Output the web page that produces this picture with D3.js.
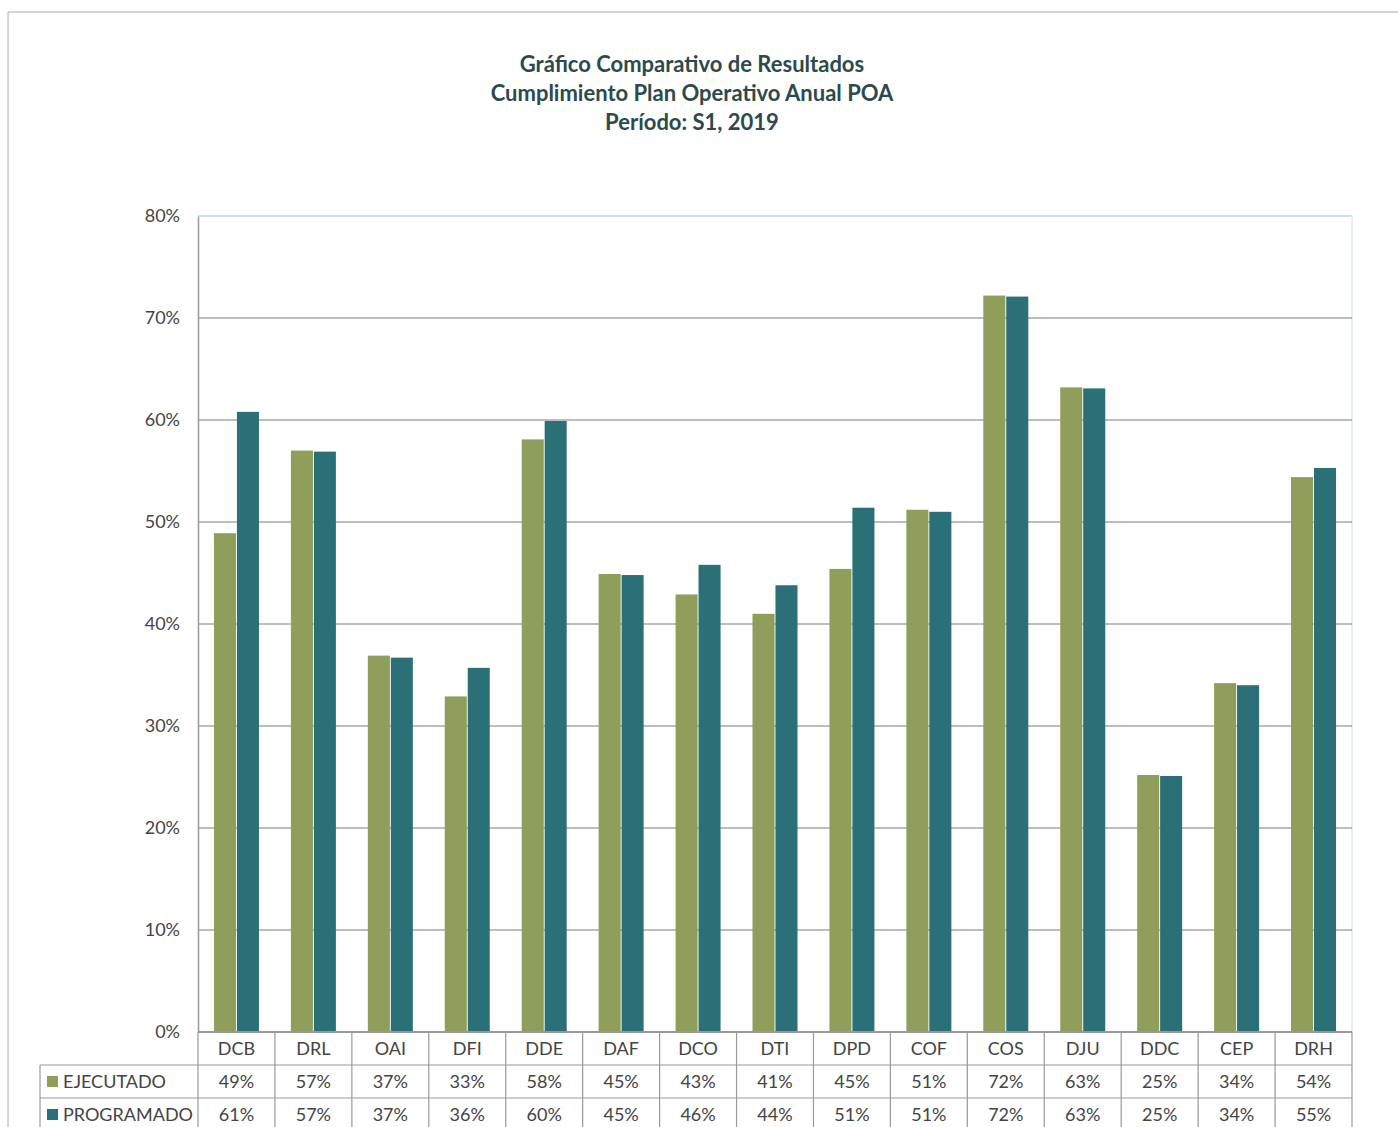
<!DOCTYPE html>
<html>
<head>
<meta charset="utf-8">
<script src="https://cdn.jsdelivr.net/npm/d3@7"></script>
<style>
    body { margin: 0; background: #fff; }
    text { font-family: Lato, "Noto Sans", sans-serif; }
</style>
</head>
<body>
<div id="chart"></div>
<script>
// data
const categories = ["DCB", "DRL", "OAI", "DFI", "DDE", "DAF", "DCO", "DTI", "DPD", "COF", "COS", "DJU", "DDC", "CEP", "DRH"];
const ejecutado  = [48.9, 57.0, 36.9, 32.9, 58.1, 44.9, 42.9, 41.0, 45.4, 51.2, 72.2, 63.2, 25.2, 34.2, 54.4];
const programado = [60.8, 56.9, 36.7, 35.7, 59.9, 44.8, 45.8, 43.8, 51.4, 51.0, 72.1, 63.1, 25.1, 34.0, 55.3];
const yTicks = [0, 10, 20, 30, 40, 50, 60, 70, 80];
const titleLines = ["Gráfico Comparativo de Resultados", "Cumplimiento Plan Operativo Anual POA", "Período: S1, 2019"];

const series = [
    { name: "EJECUTADO", values: ejecutado, color: "#8f9e5a" },
    { name: "PROGRAMADO", values: programado, color: "#2b7076" }
];

const width = 1398, height = 1127;
const plot = { left: 198, right: 1352, top: 216, bottom: 1032 };
const rowH = 33;

let svg = d3.select("#chart")
    .append("svg")
    .attr("width", width)
    .attr("height", height);

// outer frame of the scanned page
svg.append("path")
    .attr("d", `M 8,${height} L 8,12 L ${width},12`)
    .attr("fill", "none")
    .attr("stroke", "#aaa")
    .attr("stroke-width", 1);

// title
svg.append("g")
    .selectAll("text")
    .data(titleLines).enter()
    .append("text")
    .attr("x", 692)
    .attr("y", (d, i) => 72 + i * 29)
    .attr("text-anchor", "middle")
    .attr("font-size", 22)
    .attr("font-weight", "bold")
    .attr("fill", "#2c4a4b")
    .text(d => d);

let x = d3.scaleBand()
    .domain(categories)
    .range([plot.left, plot.right]);

let xInner = d3.scaleBand()
    .domain(series.map(s => s.name))
    .range([0, 45])
    .paddingInner(0.04);

let y = d3.scaleLinear()
    .domain([0, 80])
    .range([plot.bottom, plot.top]);

// plot area border (light, like the original)
svg.append("line")
    .attr("x1", plot.left).attr("x2", plot.right)
    .attr("y1", plot.top).attr("y2", plot.top)
    .attr("stroke", "#cfe3ef").attr("stroke-width", 2);
svg.append("line")
    .attr("x1", plot.right).attr("x2", plot.right)
    .attr("y1", plot.top).attr("y2", plot.bottom)
    .attr("stroke", "#e4eef3").attr("stroke-width", 2);

// gridlines
svg.append("g")
    .selectAll("line")
    .data(yTicks.filter(t => t > 0 && t < 80)).enter()
    .append("line")
    .attr("x1", plot.left).attr("x2", plot.right)
    .attr("y1", d => y(d)).attr("y2", d => y(d))
    .attr("stroke", "#7d7d7d")
    .attr("stroke-width", 1.2);

// y axis
let yAxis = svg.append("g")
    .attr("transform", `translate(${plot.left},0)`)
    .call(d3.axisLeft(y).tickValues(yTicks).tickFormat(d => d + "%").tickSize(0).tickPadding(18));
yAxis.select(".domain").attr("stroke", "#999").attr("stroke-width", 1.5);
yAxis.selectAll("text")
    .attr("font-size", 18)
    .attr("fill", "#444")
    .style("font-family", "Lato, 'Noto Sans', sans-serif");

// bars
svg.append("g")
    .selectAll("g")
    .data(series).enter()
    .append("g")
    .attr("fill", s => s.color)
    .selectAll("rect")
    .data(s => s.values.map((v, i) => ({ name: s.name, cat: categories[i], value: v }))).enter()
    .append("rect")
    .attr("x", d => x(d.cat) + (x.bandwidth() - 45) / 2 + xInner(d.name))
    .attr("width", xInner.bandwidth())
    .attr("y", d => y(d.value))
    .attr("height", d => y(0) - y(d.value));

// data table below the axis
let table = svg.append("g");
let gridColor = "#999";

// horizontal lines
[plot.bottom, plot.bottom + rowH, plot.bottom + 2 * rowH].forEach((yy, i) => {
    table.append("line")
        .attr("x1", i === 0 ? plot.left : 40).attr("x2", plot.right)
        .attr("y1", yy).attr("y2", yy)
        .attr("stroke", gridColor).attr("stroke-width", i === 0 ? 1.8 : 1.2);
});

// vertical lines
table.append("line")
    .attr("x1", 40).attr("x2", 40)
    .attr("y1", plot.bottom + rowH).attr("y2", height)
    .attr("stroke", gridColor).attr("stroke-width", 1.2);
table.selectAll(".vline")
    .data(categories.map(c => x(c)).concat([plot.right])).enter()
    .append("line")
    .attr("class", "vline")
    .attr("x1", d => d).attr("x2", d => d)
    .attr("y1", plot.bottom).attr("y2", height)
    .attr("stroke", gridColor).attr("stroke-width", 1.2);

// category labels
table.selectAll(".cat")
    .data(categories).enter()
    .append("text")
    .attr("class", "cat")
    .attr("x", d => x(d) + x.bandwidth() / 2)
    .attr("y", plot.bottom + 23)
    .attr("text-anchor", "middle")
    .attr("font-size", 18)
    .attr("fill", "#444")
    .text(d => d);

// series rows
series.forEach((s, r) => {
    let rowY = plot.bottom + rowH * (r + 1);
    table.append("rect")
        .attr("x", 47).attr("y", rowY + 11)
        .attr("width", 11).attr("height", 11)
        .attr("fill", s.color);
    table.append("text")
        .attr("x", 63).attr("y", rowY + 23)
        .attr("font-size", 18)
        .attr("fill", "#444")
        .text(s.name);
    table.selectAll(".v" + r)
        .data(s.values).enter()
        .append("text")
        .attr("x", (d, i) => x(categories[i]) + x.bandwidth() / 2)
        .attr("y", rowY + 23)
        .attr("text-anchor", "middle")
        .attr("font-size", 18)
        .attr("fill", "#444")
        .text(d => Math.round(d) + "%");
});
</script>
</body>
</html>
